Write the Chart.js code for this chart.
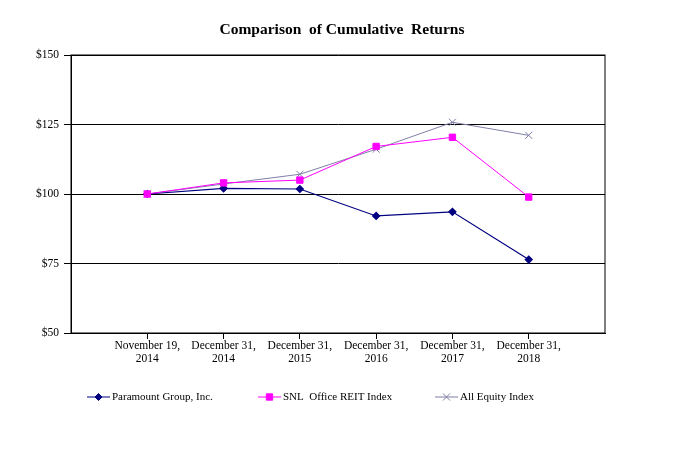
<!DOCTYPE html>
<html>
<head>
<meta charset="utf-8">
<script src="https://cdn.jsdelivr.net/npm/chart.js@4"></script>
<style>
    html, body { margin: 0; padding: 0; background: #fff; }
    #wrap { width: 681px; height: 452px; position: relative; }
</style>
</head>
<body>
<div id="wrap"><canvas id="returnsChart"></canvas></div>
<script>
var dates = [
    ['November 19,', '2014'],
    ['December 31,', '2014'],
    ['December 31,', '2015'],
    ['December 31,', '2016'],
    ['December 31,', '2017'],
    ['December 31,', '2018']
];
var paramount = [100, 102.0, 101.8, 92.1, 93.6, 76.4];
var snlOffice = [100, 104.0, 105.0, 117.1, 120.4, 98.9];
var allEquity = [100, 103.6, 107.1, 116.1, 125.8, 121.1];
var yTicks = [50, 75, 100, 125, 150];

var serif = '"Liberation Serif", "Times New Roman", serif';

function toPoints(arr) {
    return arr.map((v, i) => ({ x: i + 1, y: v }));
}

/* ========= TITLE, FRAME AND LEGEND ========= */
var extras = {
    id: 'extras',
    afterDraw: function (chart) {
        var c = chart.ctx;
        var area = chart.chartArea;
        c.save();
        c.strokeStyle = '#000';
        c.lineWidth = 1;
        c.strokeRect(area.left, area.top, area.right - area.left, area.bottom - area.top);

        c.fillStyle = '#000';
        c.font = 'bold 15.5px ' + serif;
        c.textAlign = 'center';
        c.textBaseline = 'middle';
        c.fillText('Comparison  of Cumulative  Returns', 342, 30);

        var items = [
            { x: 87, text: 'Paramount Group, Inc.', ds: 0 },
            { x: 258, text: 'SNL  Office REIT Index', ds: 1 },
            { x: 435, text: 'All Equity Index', ds: 2 }
        ];
        c.font = '11px ' + serif;
        c.textAlign = 'left';
        items.forEach(function (it) {
            var ds = chart.data.datasets[it.ds];
            var y = 397;
            c.strokeStyle = ds.borderColor;
            c.fillStyle = ds.backgroundColor;
            c.lineWidth = 1;
            c.beginPath();
            c.moveTo(it.x, y);
            c.lineTo(it.x + 23, y);
            c.stroke();
            Chart.helpers.drawPoint(c, {
                pointStyle: ds.pointStyle,
                radius: ds.pointRadius,
                borderWidth: 1
            }, it.x + 11.5, y);
            c.fillStyle = '#000';
            c.fillText(it.text, it.x + 25, y);
        });
        c.restore();
    }
};

new Chart(document.getElementById('returnsChart'), {
    type: 'line',
    data: {
        datasets: [{
            label: 'Paramount Group, Inc.',
            data: toPoints(paramount),
            borderColor: '#000080',
            backgroundColor: '#000080',
            borderWidth: 1.2,
            pointStyle: 'rectRot',
            pointRadius: 3.5,
            tension: 0,
            order: 1
        }, {
            label: 'SNL Office REIT Index',
            data: toPoints(snlOffice),
            borderColor: '#ff00ff',
            backgroundColor: '#ff00ff',
            borderWidth: 1,
            pointStyle: 'rect',
            pointRadius: 4.5,
            tension: 0,
            order: 0
        }, {
            label: 'All Equity Index',
            data: toPoints(allEquity),
            borderColor: '#7f7fa8',
            backgroundColor: '#7f7fa8',
            borderWidth: 1,
            pointStyle: 'crossRot',
            pointRadius: 5,
            tension: 0,
            order: 2
        }]
    },
    options: {
        responsive: true,
        maintainAspectRatio: false,
        animation: false,
        layout: { padding: { top: 55, right: 76, left: 0, bottom: 0 } },
        plugins: {
            legend: { display: false },
            title: { display: false },
            tooltip: { enabled: false }
        },
        scales: {
            x: {
                type: 'linear',
                min: 0,
                max: 7,
                afterFit: function (s) { s.height = 119; },
                afterBuildTicks: function (s) {
                    s.ticks = dates.map((_, i) => ({ value: i + 1 }));
                },
                grid: {
                    drawOnChartArea: false,
                    tickLength: 6,
                    color: '#000'
                },
                border: { color: '#000' },
                ticks: {
                    color: '#000',
                    padding: 0,
                    maxRotation: 0,
                    autoSkip: false,
                    font: { family: serif, size: 11.5, lineHeight: 1.15 },
                    callback: function (v) { return dates[v - 1] || ''; }
                }
            },
            y: {
                min: 50,
                max: 150,
                afterFit: function (s) { s.width = 71; },
                afterBuildTicks: function (s) {
                    s.ticks = yTicks.map(v => ({ value: v }));
                },
                grid: { color: '#000', tickLength: 7, lineWidth: 1 },
                border: { color: '#000' },
                ticks: {
                    color: '#000',
                    padding: 5,
                    font: { family: serif, size: 11.5 },
                    callback: function (v) { return '$' + v; }
                }
            }
        }
    },
    plugins: [extras]
});
</script>
</body>
</html>
